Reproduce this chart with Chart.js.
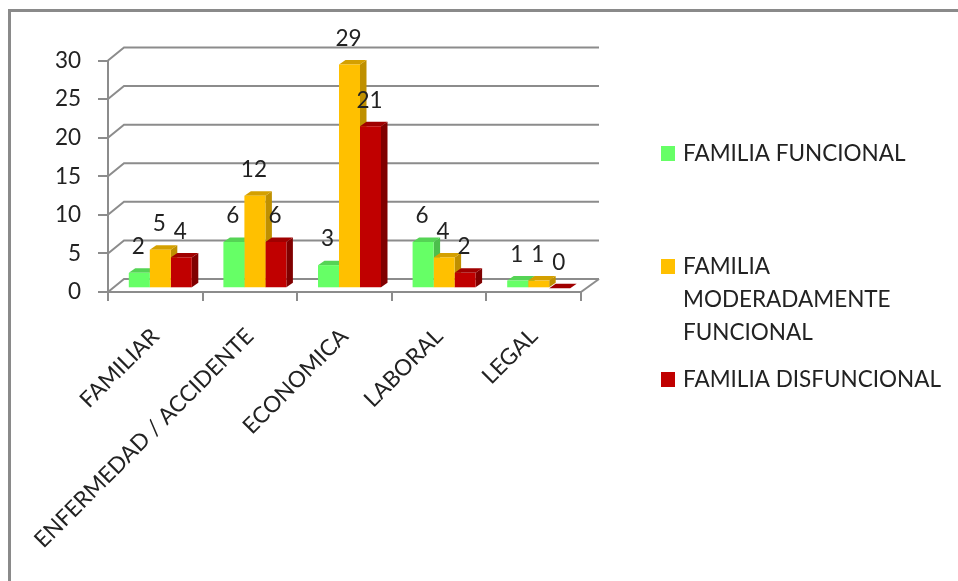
<!DOCTYPE html>
<html>
<head>
<meta charset="utf-8">
<style>
  html, body { margin: 0; padding: 0; background: #fff; }
  canvas { display: block; }
</style>
<script src="https://cdn.jsdelivr.net/npm/chart.js@4"></script>
</head>
<body>
<canvas id="chart" width="958" height="581"></canvas>
<script>
// data
var categories = ["FAMILIAR", "ENFERMEDAD / ACCIDENTE", "ECONOMICA", "LABORAL", "LEGAL"];
var funcional = [2, 6, 3, 6, 1];
var moderada = [5, 12, 29, 4, 1];
var disfuncional = [4, 6, 21, 2, 0];
var seriesNames = ["FAMILIA FUNCIONAL", "FAMILIA MODERADAMENTE FUNCIONAL", "FAMILIA DISFUNCIONAL"];
var legendLines = [["FAMILIA FUNCIONAL"], ["FAMILIA", "MODERADAMENTE", "FUNCIONAL"], ["FAMILIA DISFUNCIONAL"]];
var yTicks = [0, 5, 10, 15, 20, 25, 30];

var FONT = "Lato";
var FONT_SIZE = 22.5;
var TEXT = "#222";
var GRID = "#8c8c8c";

// fake 3d: back wall offset and bar depth
var WALL_X = 16, WALL_Y = -13;
var BAR_X = 5, BAR_Y = -3.7;
var DEPTH_X = 6.5, DEPTH_Y = -4.5;

var frontCol = ["#66ff66", "#ffc000", "#c00000"];
var sideCol = ["#4cbf4c", "#bf9000", "#800000"];
var topCol = ["#55d455", "#d4a000", "#a00000"];

// y centre of each legend entry, first line
var legendY = [153, 266, 379];

function poly(ctx, pts, col) {
  ctx.fillStyle = col;
  ctx.beginPath();
  ctx.moveTo(pts[0][0], pts[0][1]);
  for (var i = 1; i < pts.length; i++) ctx.lineTo(pts[i][0], pts[i][1]);
  ctx.closePath();
  ctx.fill();
}

var frame3d = {
  id: "frame3d",
  beforeDraw: function (chart) {
    var ctx = chart.ctx;
    ctx.save();
    ctx.strokeStyle = "#8a8a8a";
    ctx.lineWidth = 3;
    ctx.beginPath();
    ctx.moveTo(9.5, 581);
    ctx.lineTo(9.5, 10.5);
    ctx.lineTo(958, 10.5);
    ctx.stroke();
    ctx.restore();
  },
  beforeDatasetsDraw: function (chart) {
    var ctx = chart.ctx;
    var a = chart.chartArea;
    var y = chart.scales.y;

    // back wall lines and the diagonals down to the axis
    ctx.save();
    ctx.strokeStyle = GRID;
    ctx.lineWidth = 2;
    yTicks.forEach(function (t) {
      var py = y.getPixelForValue(t);
      ctx.beginPath();
      ctx.moveTo(a.left, py);
      ctx.lineTo(a.left + WALL_X, py + WALL_Y);
      ctx.lineTo(a.right + WALL_X + 2, py + WALL_Y);
      ctx.stroke();
    });
    ctx.beginPath();
    ctx.moveTo(a.right, a.bottom);
    ctx.lineTo(a.right + WALL_X + 2, a.bottom + WALL_Y);
    ctx.stroke();
    ctx.restore();

    // bar sides and tops go under the front faces
    ctx.save();
    ctx.translate(BAR_X, BAR_Y);
    chart.data.datasets.forEach(function (ds, d) {
      chart.getDatasetMeta(d).data.forEach(function (bar) {
        var p = bar.getProps(["x", "y", "base", "width"], true);
        var r = p.x + p.width / 2;
        poly(ctx, [[r, p.y], [r + DEPTH_X, p.y + DEPTH_Y], [r + DEPTH_X, p.base + DEPTH_Y], [r, p.base]], sideCol[d]);
      });
    });
    chart.data.datasets.forEach(function (ds, d) {
      chart.getDatasetMeta(d).data.forEach(function (bar) {
        var p = bar.getProps(["x", "y", "base", "width"], true);
        var r = p.x + p.width / 2, l = p.x - p.width / 2;
        poly(ctx, [[l, p.y], [l + DEPTH_X, p.y + DEPTH_Y], [r + DEPTH_X, p.y + DEPTH_Y], [r, p.y]], topCol[d]);
      });
    });
    ctx.restore();

    ctx.save();
    ctx.translate(BAR_X, BAR_Y);
  },
  afterDatasetsDraw: function (chart) {
    var ctx = chart.ctx;
    ctx.restore();

    // value labels
    ctx.save();
    ctx.font = FONT_SIZE + "px " + FONT;
    ctx.fillStyle = TEXT;
    ctx.textAlign = "center";
    ctx.textBaseline = "middle";
    chart.data.datasets.forEach(function (ds, d) {
      chart.getDatasetMeta(d).data.forEach(function (bar, i) {
        ctx.fillText(String(ds.data[i]), bar.x + BAR_X - 1, bar.y + BAR_Y - 26);
      });
    });
    ctx.restore();

    // legend, entries are not evenly spaced so it is drawn by hand
    ctx.save();
    ctx.font = FONT_SIZE + "px " + FONT;
    ctx.textAlign = "left";
    ctx.textBaseline = "middle";
    legendLines.forEach(function (lines, d) {
      ctx.fillStyle = frontCol[d];
      ctx.fillRect(661, legendY[d] - 7, 14, 15);
      ctx.fillStyle = TEXT;
      lines.forEach(function (line, n) {
        ctx.fillText(line, 683, legendY[d] + 1 + n * 33);
      });
    });
    ctx.restore();
  }
};

new Chart(document.getElementById("chart"), {
  type: "bar",
  data: {
    labels: categories,
    datasets: [
      { label: seriesNames[0], data: funcional, backgroundColor: frontCol[0], clip: false },
      { label: seriesNames[1], data: moderada, backgroundColor: frontCol[1], clip: false },
      { label: seriesNames[2], data: disfuncional, backgroundColor: frontCol[2], clip: false }
    ]
  },
  options: {
    responsive: false,
    animation: false,
    categoryPercentage: 0.666,
    barPercentage: 1,
    layout: { padding: { left: 0, right: 377, top: 60.5, bottom: 0 } },
    plugins: {
      legend: { display: false },
      title: { display: false },
      tooltip: { enabled: false }
    },
    scales: {
      x: {
        grid: { drawOnChartArea: false, color: GRID, lineWidth: 2, tickLength: 9 },
        border: { color: GRID, width: 2 },
        ticks: {
          color: TEXT,
          font: { family: FONT, size: FONT_SIZE },
          minRotation: 45,
          maxRotation: 45,
          autoSkip: false,
          padding: 22
        },
        afterFit: function (scale) { scale.height = 289; }
      },
      y: {
        min: 0,
        max: 30,
        grid: { drawOnChartArea: false, color: GRID, lineWidth: 2, tickLength: 10 },
        border: { color: GRID, width: 2 },
        ticks: {
          color: TEXT,
          font: { family: FONT, size: FONT_SIZE },
          stepSize: 5,
          padding: 17
        },
        afterFit: function (scale) { scale.width = 108; }
      }
    }
  },
  plugins: [frame3d]
});
</script>
</body>
</html>
